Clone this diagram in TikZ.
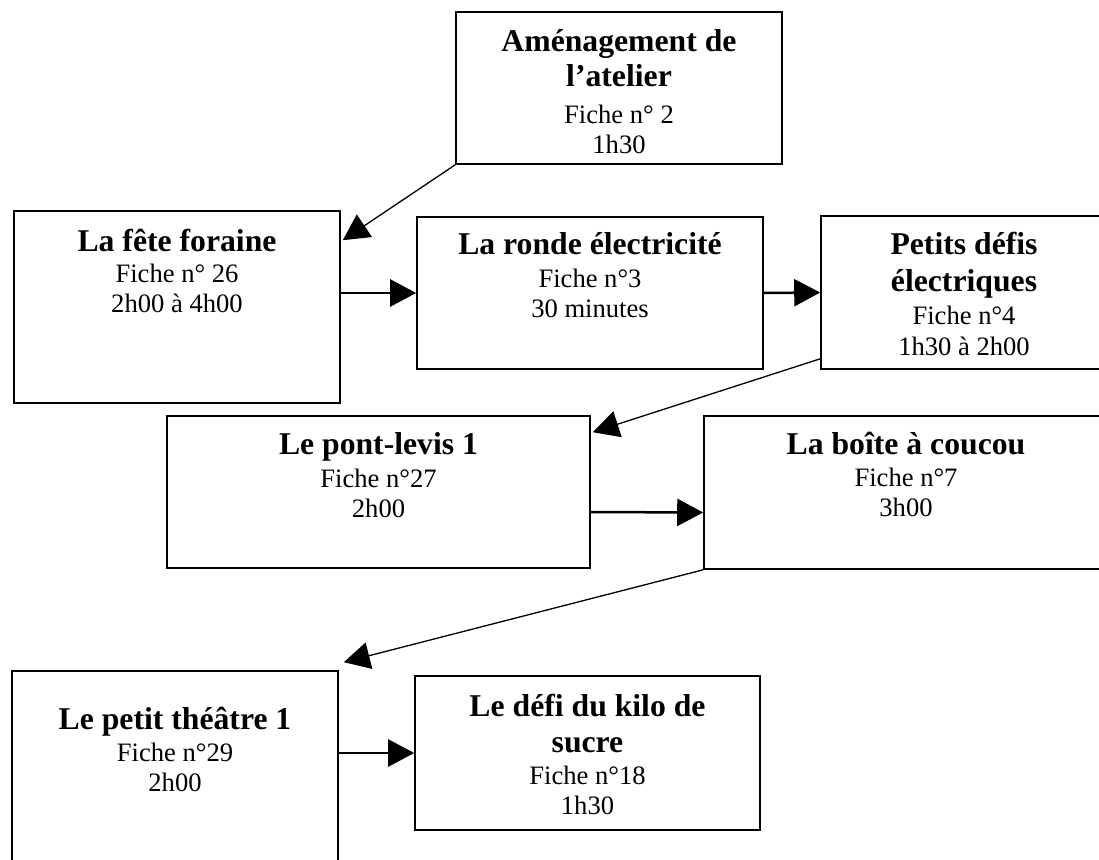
\documentclass[tikz,border=0pt]{standalone}
\usepackage{fontspec}
\setmainfont{Liberation Serif}
\usetikzlibrary{positioning, arrows.meta}

\newcommand{\corps}{\fontsize{26.6}{30}\selectfont\lineskiplimit=-100pt\relax}
\newcommand{\titre}{\fontsize{31.7}{36}\selectfont\bfseries\rule{0pt}{30pt}}

\begin{document}
\begin{tikzpicture}[x=1pt, y=-1pt,
    box/.style={rectangle, draw, line width=1.6pt, inner sep=0pt},
    txt/.style={align=center, inner sep=0pt, font={\corps}},
    fleche/.style={line width=1.3pt, -{Triangle[length=26pt, width=27pt]}},
    flechegras/.style={line width=2.5pt, -{Triangle[length=26pt, width=27pt]}}]
        \useasboundingbox (0,0) rectangle (1099,859);

        \node[box, minimum width=326pt, minimum height=152pt] (atelier) at (619,88) {}; % Fiche 2
        \node[box, minimum width=326pt, minimum height=192pt] (fete) at (177,307) {}; % Fiche 26
        \node[box, minimum width=346pt, minimum height=152pt] (ronde) at (590,293) {}; % Fiche 3
        \node[box, minimum width=286pt, minimum height=153pt] (defis) at (964,292.5) {}; % Fiche 4
        \node[box, minimum width=423pt, minimum height=152pt] (pont) at (378.5,492) {}; % Fiche 27
        \node[box, minimum width=404pt, minimum height=153pt] (coucou) at (906,492.5) {}; % Fiche 7
        \node[box, minimum width=326pt, minimum height=200pt] (theatre) at (175,771) {}; % Fiche 29
        \node[box, minimum width=345pt, minimum height=154pt] (kilo) at (587.5,753) {}; % Fiche 18

        % Texts at the top of each box
        \node[txt, below=10pt of atelier.north] (atelier-t) {{\titre Aménagement de}\\[5pt]{\titre l’atelier}\\[7pt]Fiche n° 2\\1h30};
        \node[txt, below=11pt of fete.north] (fete-t) {{\titre La fête foraine}\\[1pt]Fiche n° 26\\2h00 à 4h00};
        \node[txt, below=8pt of ronde.north] (ronde-t) {{\titre La ronde électricité}\\[3pt]Fiche n°3\\30 minutes};
        \node[txt, below=9pt of defis.north] (defis-t) {{\titre Petits défis}\\[7pt]{\titre électriques}\\[3pt]Fiche n°4\\[1pt]1h30 à 2h00};
        \node[txt, below=9pt of pont.north] (pont-t) {{\titre Le pont-levis 1}\\[3pt]Fiche n°27\\2h00};
        \node[txt, below=9pt of coucou.north] (coucou-t) {{\titre La boîte à coucou}\\[2pt]Fiche n°7\\3h00};
        \node[txt, below=29pt of theatre.north] (theatre-t) {{\titre Le petit théâtre 1}\\[2pt]Fiche n°29\\2h00};
        \node[txt, below=11pt of kilo.north] (kilo-t) {{\titre Le défi du kilo de}\\[6pt]{\titre sucre}\\[2pt]Fiche n°18\\1h30};

        % Sequence of the sessions
        \draw[fleche] (atelier.south west) -- ([xshift=2pt, yshift=-30pt]fete.north east);
        \draw[flechegras] (fete.east |- ronde.west) -- (ronde.west);
        \draw[flechegras] (ronde.east) -- (defis.west);
        \draw[fleche] ([yshift=11pt]defis.south west) -- ([xshift=2pt, yshift=-17pt]pont.north east);
        \draw[flechegras] ([yshift=-20pt]pont.east) -- ([yshift=-20pt]coucou.west);
        \draw[fleche] (coucou.south west) -- ([xshift=5pt, yshift=8pt]theatre.north east);
        \draw[flechegras] (theatre.east |- kilo.west) -- (kilo.west);
\end{tikzpicture}
\end{document}
